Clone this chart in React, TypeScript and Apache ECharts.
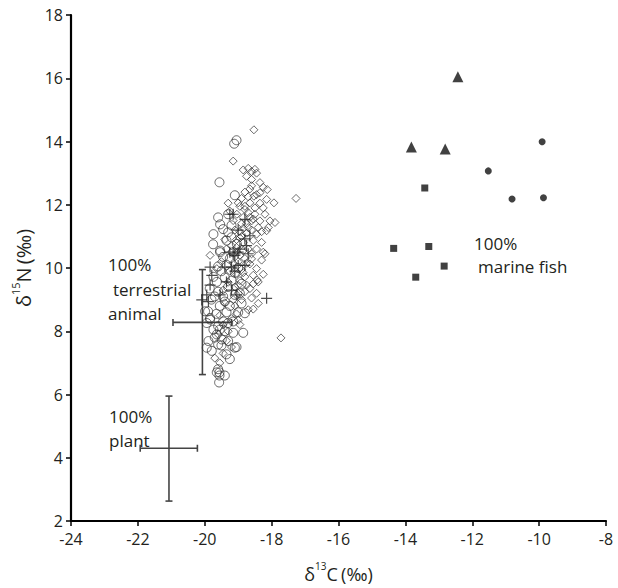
import React, { useEffect, useRef } from "react";
import * as echarts from "echarts";

// ---- data (δ13C, δ15N) ----
const diamonds: number[][] = [
  [-18.53, 14.37], [-19.15, 13.38], [-18.85, 13.1], [-18.7, 13.15], [-18.6, 13.05], [-18.5, 13.12], [-18.75, 12.9], [-18.6, 12.8], [-18.45, 13.0],
  [-18.65, 12.5], [-18.35, 12.38], [-18.13, 12.48], [-18.53, 12.27], [-18.15, 12.17], [-17.93, 12.06], [-17.27, 12.2],
  [-18.45, 12.32], [-19.0, 12.06], [-18.65, 12.06], [-18.8, 11.85], [-18.5, 11.9], [-18.25, 11.9], [-19.04, 11.7], [-18.5, 11.7], [-18.2, 11.7],
  [-18.6, 11.49], [-18.35, 11.49], [-18.05, 11.49], [-17.9, 11.44], [-18.7, 11.28], [-18.4, 11.28], [-18.1, 11.28], [-18.45, 11.07], [-18.15, 11.18],
  [-18.55, 10.87], [-18.3, 10.81], [-18.45, 10.6], [-18.25, 10.5],
  [-19.84, 10.4], [-19.64, 9.98], [-18.6, 10.29], [-18.45, 9.98], [-18.55, 9.77], [-18.4, 9.56], [-18.65, 9.35], [-18.45, 9.2], [-18.4, 8.88],
  [-18.2, 10.45], [-18.65, 10.13], [-18.8, 9.72], [-18.75, 9.46], [-18.43, 9.62], [-18.7, 8.68], [-17.72, 7.79], [-18.95, 8.21],
  [-18.9, 12.2], [-18.8, 12.4], [-18.95, 11.95], [-18.85, 11.6], [-18.7, 11.75], [-18.9, 11.4], [-18.75, 11.1], [-18.6, 11.2], [-18.9, 11.0],
  [-18.85, 10.8], [-18.7, 10.6], [-18.95, 10.4], [-18.8, 10.3], [-19.0, 10.2], [-18.9, 9.95], [-19.05, 9.8], [-18.95, 9.6], [-19.1, 9.4],
  [-19.0, 9.2], [-18.9, 9.0], [-19.1, 8.8], [-19.05, 8.55], [-19.2, 8.4], [-19.3, 8.0], [-19.35, 7.7], [-19.2, 7.5], [-19.45, 7.3],
  [-19.1, 11.2], [-19.15, 11.5], [-19.05, 10.9], [-18.6, 12.6], [-18.35, 12.7], [-18.25, 12.55], [-18.7, 12.25], [-18.35, 12.05], [-18.55, 11.55],
  [-18.3, 11.15], [-18.6, 10.45], [-18.3, 10.25], [-18.55, 9.5], [-18.6, 9.05], [-18.55, 8.7], [-18.25, 9.8], [-19.3, 12.05], [-19.25, 11.8],
  [-19.4, 10.9], [-19.35, 10.6], [-19.5, 10.2], [-19.25, 9.9], [-19.3, 9.55], [-19.45, 9.3], [-19.4, 8.9], [-19.55, 8.5], [-19.45, 8.2],
  [-19.6, 7.9], [-19.7, 7.15], [-19.55, 7.0],
  [-18.85, 11.25], [-18.95, 11.15], [-18.75, 11.4], [-18.65, 11.6], [-18.8, 11.95], [-18.95, 10.95], [-19.05, 10.65], [-18.85, 10.55],
  [-18.75, 10.15], [-18.85, 9.85], [-19.15, 10.15], [-19.2, 10.7], [-19.0, 9.45], [-18.8, 9.25], [-19.15, 9.0], [-19.0, 8.35],
];

const circles: number[][] = [
  [-19.05, 14.04], [-19.12, 13.93], [-19.56, 12.71], [-19.1, 12.3], [-19.54, 11.38], [-19.45, 11.23], [-19.74, 11.07], [-19.3, 11.13],
  [-19.54, 10.55], [-19.35, 10.87], [-19.2, 10.97], [-19.04, 10.76], [-19.54, 10.5],
  [-19.74, 9.72], [-19.64, 9.56], [-19.6, 9.25], [-19.7, 9.1], [-19.9, 8.63], [-19.84, 8.42], [-19.4, 8.94], [-19.1, 9.15], [-18.95, 9.2],
  [-18.9, 8.88], [-18.8, 8.57],
  [-19.99, 8.63], [-19.94, 8.26], [-19.89, 7.69], [-19.94, 7.48], [-19.79, 7.38], [-19.74, 8.05], [-19.15, 7.95], [-19.3, 7.69], [-19.1, 7.48],
  [-19.05, 7.5], [-19.35, 7.27], [-19.25, 7.12], [-19.84, 8.37], [-19.6, 8.16], [-19.64, 7.9], [-19.49, 7.74], [-19.6, 7.58], [-19.4, 8.0],
  [-19.3, 8.26], [-19.15, 8.31], [-19.45, 8.31],
  [-19.6, 6.8], [-19.56, 6.7], [-19.56, 6.6], [-19.4, 6.6], [-19.57, 6.38], [-19.64, 6.7],
  [-19.5, 9.9], [-19.4, 9.7], [-19.3, 9.4], [-19.45, 9.1], [-19.55, 8.8], [-19.35, 8.6], [-19.25, 8.8], [-19.2, 9.6], [-19.35, 10.1],
  [-19.25, 10.3], [-19.45, 10.35], [-19.6, 10.05], [-19.15, 10.5], [-19.0, 10.0], [-19.1, 9.85], [-18.9, 9.5], [-19.0, 8.6], [-19.55, 8.05],
  [-19.5, 7.55], [-19.7, 7.8], [-19.65, 8.55], [-19.8, 9.0], [-19.75, 10.75], [-19.85, 9.35], [-18.85, 7.95], [-19.2, 11.35], [-19.6, 11.6],
  [-19.3, 11.7],
];

const crosses: number[][] = [
  [-19.84, 10.03], [-19.79, 9.77], [-19.84, 9.46], [-19.94, 9.15], [-20.09, 8.99], [-19.89, 8.94], [-18.15, 9.04], [-19.54, 9.15],
  [-19.4, 10.03], [-19.2, 10.03], [-18.8, 10.08], [-19.0, 10.08], [-19.1, 10.4], [-19.35, 9.56], [-19.04, 9.15],
  [-19.25, 11.7], [-19.15, 11.7], [-18.8, 11.54], [-18.8, 10.92], [-18.65, 11.02], [-18.95, 10.6], [-19.0, 10.5], [-19.25, 10.5],
  [-19.15, 10.45], [-18.75, 10.71], [-18.7, 10.45], [-19.0, 11.2], [-19.1, 9.9], [-19.2, 9.3],
];

const triangles: number[][] = [[-12.43, 16.05], [-13.82, 13.83], [-12.81, 13.76]];
const dots: number[][] = [[-9.91, 13.99], [-11.52, 13.07], [-10.81, 12.18], [-9.87, 12.22]];
const squares: number[][] = [[-13.42, 12.53], [-14.35, 10.62], [-13.3, 10.68], [-12.84, 10.06], [-13.69, 9.71]];

// error bars: [x, y, xLo, xHi, yLo, yHi]
const endmemberBars: number[][] = [
  [-20.07, 8.28, -20.95, -19.2, 6.63, 9.95], // terrestrial animal
  [-21.07, 4.3, -21.93, -20.22, 2.63, 5.95], // plant
];

const xTicks = { min: -24, max: -8, interval: 2 };
const yTicks = { min: 2, max: 18, interval: 2 };

const FONT = "'Open Sans', 'Liberation Sans', sans-serif";
const INK = "#231f20";

const plusPath =
  "path://M4.45,0 L5.55,0 L5.55,4.45 L10,4.45 L10,5.55 L5.55,5.55 L5.55,10 L4.45,10 L4.45,5.55 L0,5.55 L0,4.45 L4.45,4.45 Z";

export default function App() {
  const ref = useRef<HTMLDivElement>(null);
  useEffect(() => {
    document.body.style.margin = "0";
    if (!ref.current) return;
    const chart = echarts.init(ref.current, null, { renderer: "svg" });
    const outline = { color: "transparent", borderColor: "#2f2f2f", borderWidth: 0.9 };
    const option: any = {
      animation: false,
      backgroundColor: "#ffffff",
      grid: { left: 71, right: 12, top: 15, bottom: 61 },
      xAxis: {
        type: "value",
        ...xTicks,
        name: "{d|δ}{s|13}{d|C} {p|(‰)}",
        nameLocation: "middle",
        nameGap: 40,
        nameTextStyle: {
          rich: {
            d: { fontSize: 18, fontFamily: FONT, color: INK, lineHeight: 22, verticalAlign: "bottom" },
            s: { fontSize: 10, fontFamily: FONT, color: INK, lineHeight: 22, verticalAlign: "top" },
            p: { fontSize: 18, fontFamily: FONT, color: INK, lineHeight: 22, verticalAlign: "bottom" },
          },
        },
        axisLine: { show: true, lineStyle: { color: "#000", width: 2.2 } },
        axisTick: { show: true, length: 5, lineStyle: { color: "#000", width: 1.5 } },
        axisLabel: { fontSize: 16, fontFamily: FONT, color: INK, margin: 10 },
        splitLine: { show: false },
      },
      yAxis: {
        type: "value",
        ...yTicks,
        name: "{d|δ}{s|15}{d|N} {p|(‰)}",
        nameLocation: "middle",
        nameRotate: 90,
        nameGap: 35,
        nameTextStyle: {
          rich: {
            d: { fontSize: 20, fontFamily: FONT, color: INK, lineHeight: 24, verticalAlign: "bottom" },
            s: { fontSize: 11, fontFamily: FONT, color: INK, lineHeight: 24, verticalAlign: "top" },
            p: { fontSize: 20, fontFamily: FONT, color: INK, lineHeight: 24, verticalAlign: "bottom" },
          },
        },
        axisLine: { show: true, lineStyle: { color: "#000", width: 2.2 } },
        axisTick: { show: true, length: 5, lineStyle: { color: "#000", width: 1.5 } },
        axisLabel: { fontSize: 16, fontFamily: FONT, color: INK, margin: 8 },
        splitLine: { show: false },
      },
      series: [
        {
          type: "custom",
          data: endmemberBars,
          encode: { x: [0, 2, 3], y: [1, 4, 5] },
          z: 1,
          renderItem: (params: any, api: any) => {
            const x = api.value(0), y = api.value(1);
            const xl = api.coord([api.value(2), y]);
            const xh = api.coord([api.value(3), y]);
            const yl = api.coord([x, api.value(4)]);
            const yh = api.coord([x, api.value(5)]);
            const st = { stroke: "#444", lineWidth: 1.6 };
            const cap = 3.5;
            const ln = (x1: number, y1: number, x2: number, y2: number) => ({
              type: "line",
              shape: { x1, y1, x2, y2 },
              style: st,
            });
            return {
              type: "group",
              children: [
                ln(xl[0], xl[1], xh[0], xh[1]),
                ln(yl[0], yl[1], yh[0], yh[1]),
                ln(xl[0], xl[1] - cap, xl[0], xl[1] + cap),
                ln(xh[0], xh[1] - cap, xh[0], xh[1] + cap),
                ln(yl[0] - cap, yl[1], yl[0] + cap, yl[1]),
                ln(yh[0] - cap, yh[1], yh[0] + cap, yh[1]),
              ],
            };
          },
        },
        { type: "scatter", data: diamonds, symbol: "diamond", symbolSize: 8, itemStyle: outline, z: 2 },
        { type: "scatter", data: circles, symbol: "circle", symbolSize: 9, itemStyle: outline, z: 2 },
        { type: "scatter", data: crosses, symbol: plusPath, symbolSize: 11, itemStyle: { color: "#222" }, z: 3 },
        { type: "scatter", data: triangles, symbol: "triangle", symbolSize: 11, itemStyle: { color: "#111" }, z: 3 },
        { type: "scatter", data: dots, symbol: "circle", symbolSize: 7, itemStyle: { color: "#111" }, z: 3 },
        { type: "scatter", data: squares, symbol: "rect", symbolSize: 7, itemStyle: { color: "#111" }, z: 3 },
      ],
      graphic: [
        { type: "text", left: 108, top: 256, style: { text: "100%", font: `17px ${FONT}`, fill: INK } },
        { type: "text", left: 113, top: 281, style: { text: "terrestrial", font: `17px ${FONT}`, fill: INK } },
        { type: "text", left: 108, top: 305, style: { text: "animal", font: `17px ${FONT}`, fill: INK } },
        { type: "text", left: 109, top: 408, style: { text: "100%", font: `17px ${FONT}`, fill: INK } },
        { type: "text", left: 109, top: 432, style: { text: "plant", font: `17px ${FONT}`, fill: INK } },
        { type: "text", left: 474, top: 235, style: { text: "100%", font: `17px ${FONT}`, fill: INK } },
        { type: "text", left: 478, top: 258, style: { text: "marine fish", font: `17px ${FONT}`, fill: INK } },
      ],
    };
    chart.setOption(option);
    return () => chart.dispose();
  }, []);
  return <div ref={ref} style={{ width: 618, height: 588 }} />;
}
